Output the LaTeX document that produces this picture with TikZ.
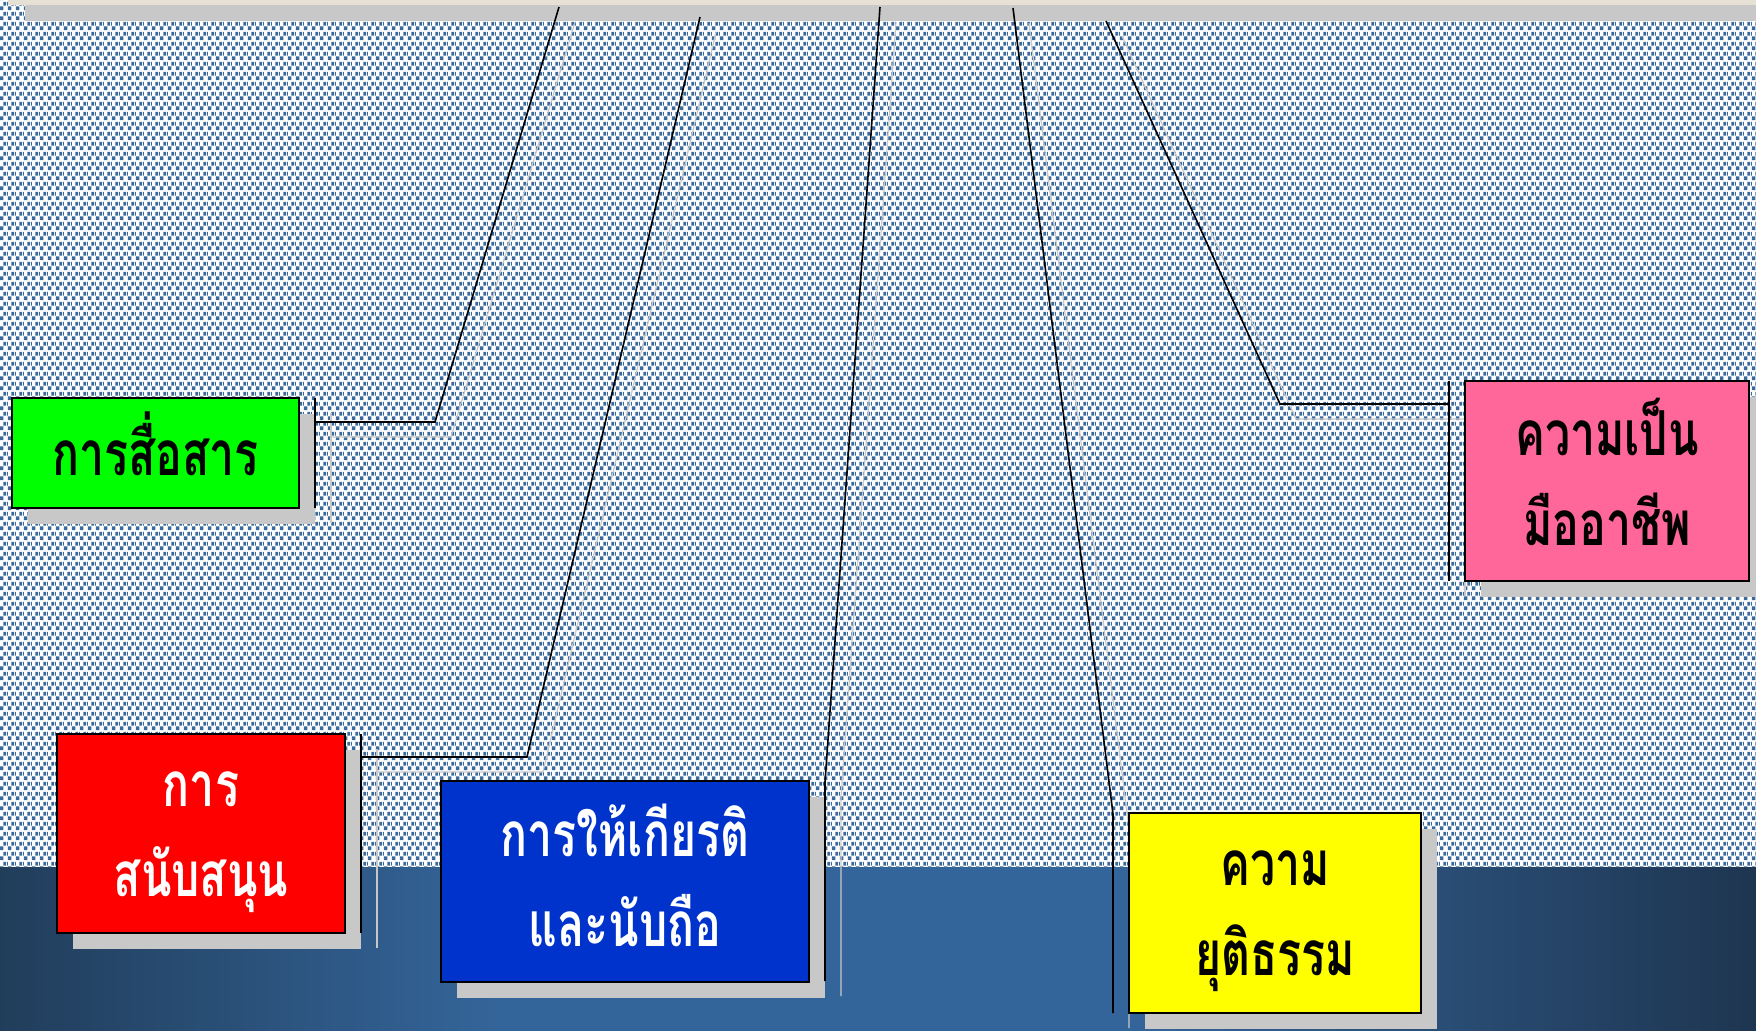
\documentclass[tikz,border=0pt]{standalone}
\usepackage{fontspec}
\newfontfamily\thaifont[Script=Thai,FakeStretch=0.72]{Loma}
\usetikzlibrary{patterns,shadows}
\pgfdeclarepatternformonly{bluedots}{\pgfqpoint{0pt}{0pt}}{\pgfqpoint{4pt}{5pt}}{\pgfqpoint{4pt}{5pt}}{%
\pgfpathrectangle{\pgfqpoint{0.5pt}{0.5pt}}{\pgfqpoint{2pt}{2pt}}%
\pgfpathrectangle{\pgfqpoint{2.5pt}{3pt}}{\pgfqpoint{1.5pt}{2pt}}%
\pgfpathrectangle{\pgfqpoint{0pt}{3pt}}{\pgfqpoint{0.5pt}{2pt}}%
\pgfusepath{fill}}
\definecolor{patblue}{HTML}{3A6A9B}
\definecolor{banddark}{HTML}{213D5A}
\definecolor{bandlight}{HTML}{34659A}
\definecolor{banddarkr}{HTML}{1E3550}
\definecolor{beige}{HTML}{E6E0D5}
\definecolor{shgray}{HTML}{C8C8C8}
\definecolor{bgreen}{HTML}{00FF00}
\definecolor{bred}{HTML}{FF0000}
\definecolor{bblue}{HTML}{0033CC}
\definecolor{byellow}{HTML}{FFFF00}
\definecolor{bpink}{HTML}{FF6699}
\tikzset{
  box/.style={draw=black, line width=0.9pt, inner sep=0pt, outer sep=0pt,
    general shadow={fill=shgray, shadow xshift=8pt, shadow yshift=-8pt}},
  boxtext/.style={inner sep=0pt, align=center,
    font=\thaifont\bfseries\fontsize{31}{45}\selectfont},
  conn/.style={draw=black, line width=0.8pt},
  connsh/.style={draw=shgray, line width=0.6pt}
}
\begin{document}
\begin{tikzpicture}[x=0.5pt,y=-0.5pt]
\useasboundingbox (0,0) rectangle (1756,1030);
\begin{scope}
\clip (0,0) rectangle (1756,1030);
% background
\fill[white] (0,-5) rectangle (1760,868);
\fill[pattern=bluedots,pattern color=patblue] (0,-5) rectangle (1760,868);
\shade[left color=banddark, right color=bandlight] (-2,867) rectangle (500,1040);
\fill[bandlight] (499,867) rectangle (1131,1040);
\shade[left color=bandlight, right color=banddarkr] (1130,867) rectangle (1760,1040);
\fill[beige] (8,-2) rectangle (1760,5);
\fill[shgray] (25,5) rectangle (1760,21);

% free ends and elbows
\coordinate (gtop) at (559,7);   \coordinate (gel) at (435,422);
\coordinate (rtop) at (700,17);  \coordinate (rel) at (527,757);
\coordinate (btop) at (880,7);
\coordinate (ytop) at (1013,8);
\coordinate (ptop) at (1106,21); \coordinate (pel) at (1280,404);

% box corners
\path (12,398) coordinate (g0);
\path (57,734) coordinate (r0);
\path (441,781) coordinate (b0);
\path (1129,813) coordinate (y0);
\path (1465,381) coordinate (p0);

% bracket points
\coordinate (ga) at (315,398); \coordinate (gb) at (315,508); \coordinate (gc) at (315,422);
\coordinate (ra) at (361,734); \coordinate (rb) at (361,933); \coordinate (rc) at (361,757);
\coordinate (ba) at (825,782); \coordinate (bb) at (825,981);
\coordinate (ya) at (1113,814); \coordinate (yb) at (1113,1013);
\coordinate (pa) at (1449,381); \coordinate (pb) at (1449,581); \coordinate (pc) at (1449,404);

% shadow copies of connectors
\begin{scope}[connsh]
\draw ([shift={(16,15)}]ga) -- ([shift={(16,15)}]gb);
\draw ([shift={(16,15)}]gc) -- ([shift={(16,15)}]gel) -- ([shift={(16,15)}]gtop);
\draw ([shift={(16,15)}]ra) -- ([shift={(16,15)}]rb);
\draw ([shift={(16,15)}]rc) -- ([shift={(16,15)}]rel) -- ([shift={(16,15)}]rtop);
\draw ([shift={(16,15)}]btop) -- ([shift={(16,15)}]ba) -- ([shift={(16,15)}]bb);
\draw ([shift={(16,15)}]ytop) -- ([shift={(16,15)}]ya) -- ([shift={(16,15)}]yb);
\draw ([shift={(16,15)}]ptop) -- ([shift={(16,15)}]pel) -- ([shift={(16,15)}]pc);
\draw ([shift={(16,15)}]pa) -- ([shift={(16,15)}]pb);
\end{scope}

% boxes
\node[box, fill=bgreen, anchor=north west, minimum width=143.5pt, minimum height=55pt] (g) at (g0) {};
\node[box, fill=bred, anchor=north west, minimum width=144pt, minimum height=99.5pt] (r) at (r0) {};
\node[box, fill=bblue, anchor=north west, minimum width=184pt, minimum height=100.5pt] (b) at (b0) {};
\node[box, fill=byellow, anchor=north west, minimum width=146pt, minimum height=100pt] (y) at (y0) {};
\node[box, fill=bpink, anchor=north west, minimum width=142pt, minimum height=100pt] (p) at (p0) {};

% texts
\node[boxtext, text=black] (gt) at ([shift={(0,-9)}]g.center) {การสื่อสาร};
\node[boxtext, text=white] (rt) at ([shift={(0,9)}]r.center) {การ\\สนับสนุน};
\node[boxtext, text=white] (bt) at ([shift={(0,-6)}]b.center) {การให้เกียรติ\\และนับถือ};
\node[boxtext, text=black] (yt) at ([shift={(0,8)}]y.center) {ความ\\ยุติธรรม};
\node[boxtext, text=black] (pt) at ([shift={(0,-9)}]p.center) {ความเป็น\\มืออาชีพ};

% connectors
\draw[conn] (ga) -- (gb);
\draw[conn] (gc) -- (gel) -- (gtop);
\draw[conn] (ra) -- (rb);
\draw[conn] (rc) -- (rel) -- (rtop);
\draw[conn] (btop) -- (ba) -- (bb);
\draw[conn] (ytop) -- (ya) -- (yb);
\draw[conn] (ptop) -- (pel) -- (pc);
\draw[conn] (pa) -- (pb);
\end{scope}
\end{tikzpicture}
\end{document}
